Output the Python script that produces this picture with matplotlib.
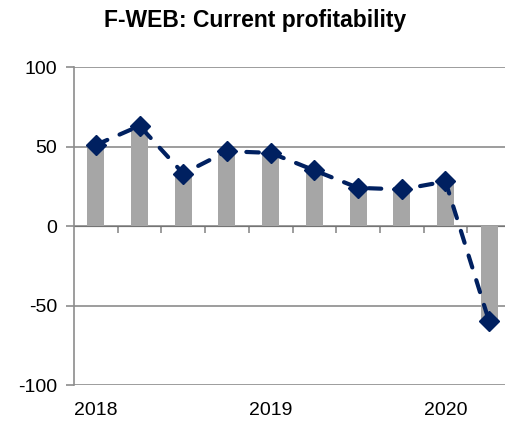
import matplotlib.pyplot as plt
import numpy as np

plt.rcParams['font.family'] = ['Liberation Sans', 'DejaVu Sans']
plt.rcParams['axes.unicode_minus'] = False

quarters = ['2018Q1', '2018Q2', '2018Q3', '2018Q4', '2019Q1', '2019Q2',
            '2019Q3', '2019Q4', '2020Q1', '2020Q2']
bar_values = [51, 63, 33, 47, 46, 35, 24, 23, 28, -60]
line_values = [51, 63, 33, 47, 46, 35, 24, 23, 28, -60]
year_labels = ['2018', '2019', '2020']
year_positions = [0, 4, 8]
y_ticks = [-100, -50, 0, 50, 100]

fig = plt.figure(figsize=(5.05, 4.21), dpi=100)
ax = fig.add_axes([74 / 505, 36 / 421, 437 / 505, 318 / 421])

x = np.arange(len(quarters))
ax.bar(x, bar_values, width=0.39, color='#a6a6a6', zorder=2)
line, = ax.plot(x, line_values, color='#002060', lw=3, marker='D',
                markersize=10, solid_capstyle='round', dash_capstyle='round',
                zorder=3)
line.set_dashes([3.0, 3.2])

ax.set_xlim(-0.5, len(quarters) - 0.5)
ax.set_ylim(-100, 100)
ax.set_yticks(y_ticks)
ax.tick_params(axis='y', labelsize=14, length=6, color='#8c8c8c', width=1.2, pad=6)
ax.yaxis.grid(True, color='#8c8c8c', lw=1.2, zorder=0)
ax.set_axisbelow(True)

ax.set_xticks(year_positions)
ax.set_xticklabels(year_labels)
ax.tick_params(axis='x', labelsize=14, length=0, pad=12)

for side in ['top', 'right', 'bottom']:
    ax.spines[side].set_visible(False)
ax.spines['left'].set_color('#8c8c8c')
ax.spines['left'].set_linewidth(1.2)

# zero axis with category boundary ticks
sec = ax.secondary_xaxis(0.5)
sec.set_xticks(np.arange(0.5, len(quarters), 1.0))
sec.set_xticklabels([])
sec.tick_params(axis='x', direction='in', length=5, color='#8c8c8c', width=1.2)
sec.spines['bottom'].set_color('#8c8c8c')
sec.spines['bottom'].set_linewidth(1.2)

fig.text(0.505, 0.952, 'F-WEB: Current profitability', ha='center', va='center',
         fontsize=16.5, fontweight='bold')

fig.savefig('out.png', dpi=100)
